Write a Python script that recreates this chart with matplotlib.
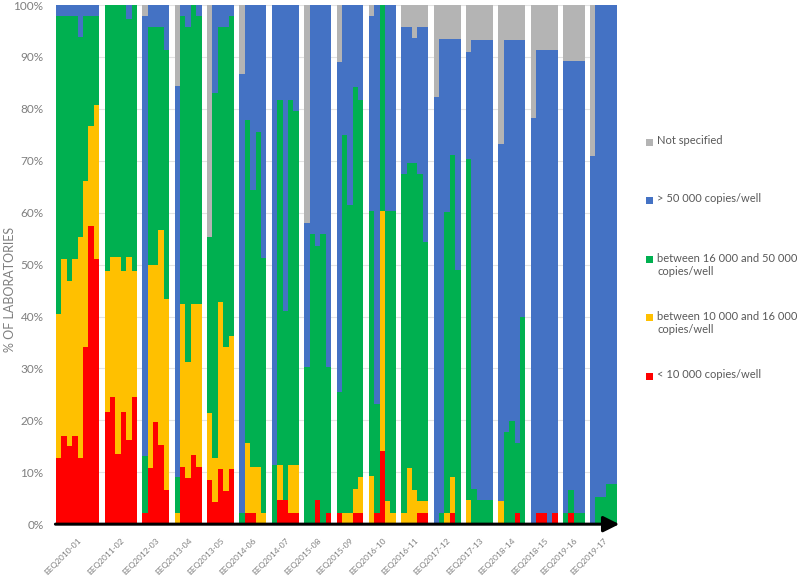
import matplotlib.pyplot as plt
import numpy as np
from matplotlib.patches import Rectangle

plt.rcParams['font.family'] = ['Lato', 'DejaVu Sans']

# one label per EEQ round
rounds = ['EEQ2010-01', 'EEQ2011-02', 'EEQ2012-03', 'EEQ2013-04', 'EEQ2013-05',
          'EEQ2014-06', 'EEQ2014-07', 'EEQ2015-08', 'EEQ2015-09', 'EEQ2016-10',
          'EEQ2016-11', 'EEQ2017-12', 'EEQ2017-13', 'EEQ2018-14', 'EEQ2018-15',
          'EEQ2019-16', 'EEQ2019-17']

# number of thin bars (samples) in each round
group_sizes = [8, 6, 5, 5, 5, 5, 5, 5, 5, 5, 5, 5, 5, 5, 5, 4, 5]

# % of laboratories per sample, one list per category
below_10k = [12.8, 17.0, 15.0, 17.0, 12.8, 34.1, 57.5, 51.1,
             21.7, 24.4, 13.6, 21.7, 16.2, 24.4,
             2.1, 10.9, 19.7, 15.3, 6.5,
             0, 11.1, 8.8, 13.3, 11.1,
             8.6, 4.3, 10.7, 6.4, 10.7,
             0, 2.1, 2.1, 0, 0,
             0, 4.6, 4.6, 2.1, 2.1,
             0, 0, 4.6, 0, 2.1,
             2.2, 0, 0, 2.2, 2.2,
             0, 2.1, 14.0, 0, 0,
             0, 0, 0, 2.1, 2.1,
             0, 0, 0, 2.2, 0,
             0, 0, 0, 0, 0,
             0, 0, 0, 2.1, 0,
             0, 2.1, 2.1, 0, 2.1,
             0, 2.1, 0, 0,
             0, 0, 0, 0, 0]

between_10k_16k = [27.7, 34.1, 31.9, 34.1, 42.5, 32.0, 19.2, 29.7,
                   27.0, 27.0, 37.8, 27.0, 35.2, 24.3,
                   0, 39.0, 30.2, 41.3, 36.9,
                   2.1, 31.3, 22.4, 29.1, 31.3,
                   12.8, 8.4, 32.0, 27.7, 25.5,
                   0, 13.5, 9.0, 11.1, 2.1,
                   0, 6.7, 0, 9.2, 9.2,
                   0, 0, 0, 0, 0,
                   0, 2.2, 2.2, 4.6, 6.9,
                   9.3, 0, 46.4, 4.5, 2.1,
                   2.1, 10.9, 6.6, 2.3, 2.3,
                   0, 0, 2.2, 6.8, 0,
                   4.6, 0, 0, 0, 0,
                   4.4, 0, 0, 0, 0,
                   0, 0, 0, 0, 0,
                   0, 0, 0, 0,
                   0, 0, 0, 0, 0]

between_16k_50k = [57.4, 46.8, 51.0, 46.8, 38.5, 31.8, 21.2, 17.1,
                   51.3, 48.6, 48.6, 51.3, 46.0, 51.3,
                   11.1, 45.9, 45.9, 39.2, 48.0,
                   6.9, 55.5, 64.5, 57.6, 55.5,
                   33.9, 70.4, 53.1, 61.7, 61.7,
                   2.1, 62.2, 53.3, 64.4, 49.1,
                   11.3, 70.5, 36.4, 70.5, 68.3,
                   30.3, 55.9, 48.9, 55.9, 28.2,
                   23.3, 72.8, 59.2, 77.4, 72.7,
                   51.0, 21.0, 39.6, 55.8, 58.2,
                   65.3, 58.7, 63.0, 63.0, 50.0,
                   0, 2.2, 57.9, 62.2, 49.0,
                   65.8, 6.8, 4.6, 4.6, 4.6,
                   0, 17.7, 19.9, 13.5, 40.0,
                   0, 0, 0, 0, 0,
                   2.1, 4.4, 2.1, 2.1,
                   0, 5.2, 5.2, 7.8, 7.8]

above_50k = [2.1, 2.1, 2.1, 2.1, 6.2, 2.1, 2.1, 2.1,
             0, 0, 0, 0, 2.6, 0,
             84.7, 4.2, 4.2, 4.2, 8.6,
             75.5, 2.1, 4.3, 0, 2.1,
             0, 16.9, 4.2, 4.2, 2.1,
             84.7, 22.2, 35.6, 24.5, 48.8,
             88.7, 18.2, 59.0, 18.2, 20.4,
             27.8, 44.1, 46.5, 44.1, 69.7,
             63.5, 25.0, 38.6, 15.8, 18.2,
             37.5, 76.9, 0, 39.7, 39.7,
             28.4, 26.2, 24.0, 28.4, 41.4,
             82.3, 91.3, 33.4, 22.3, 44.5,
             20.6, 86.4, 88.6, 88.6, 88.6,
             68.9, 75.6, 73.4, 77.7, 53.3,
             78.3, 89.2, 89.2, 91.3, 89.2,
             87.1, 82.7, 87.1, 87.1,
             71.0, 94.8, 94.8, 92.2, 92.2]

not_specified = [0, 0, 0, 0, 0, 0, 0, 0,
                 0, 0, 0, 0, 0, 0,
                 2.1, 0, 0, 0, 0,
                 15.5, 0, 0, 0, 0,
                 44.7, 0, 0, 0, 0,
                 13.2, 0, 0, 0, 0,
                 0, 0, 0, 0, 0,
                 41.9, 0, 0, 0, 0,
                 11.0, 0, 0, 0, 0,
                 2.2, 0, 0, 0, 0,
                 4.2, 4.2, 6.4, 4.2, 4.2,
                 17.7, 6.5, 6.5, 6.5, 6.5,
                 9.0, 6.8, 6.8, 6.8, 6.8,
                 26.7, 6.7, 6.7, 6.7, 6.7,
                 21.7, 8.7, 8.7, 8.7, 8.7,
                 10.8, 10.8, 10.8, 10.8,
                 29.0, 0, 0, 0, 0]

series = [
    (below_10k, '#FF0000', '< 10 000 copies/well'),
    (between_10k_16k, '#FFC000', 'between 10 000 and 16 000\ncopies/well'),
    (between_16k_50k, '#00B050', 'between 16 000 and 50 000\ncopies/well'),
    (above_50k, '#4472C4', '> 50 000 copies/well'),
    (not_specified, '#B4B4B4', 'Not specified'),
]

# bar positions: one empty slot between rounds, label at the middle of each round
x = []
centers = []
slot = 0
for n in group_sizes:
    x.extend(range(slot, slot + n))
    centers.append(slot + (n - 1) / 2)
    slot += n + 1
x = np.array(x)
n_slots = slot - 1

fig = plt.figure(figsize=(8, 5.76), dpi=100)
ax = fig.add_axes([0.07, 0.09, 0.70125, 0.90125])

bottom = np.zeros(len(x))
for vals, color, label in series:
    vals = np.array(vals)
    ax.bar(x, vals, width=1.0, bottom=bottom, color=color, linewidth=0,
           antialiased=False, zorder=2)
    bottom += vals

ax.set_xlim(-0.5, n_slots - 0.5)
ax.set_ylim(0, 100)
ax.set_yticks(np.arange(0, 101, 10))
ax.set_yticklabels([f'{v}%' for v in range(0, 101, 10)], color='#7F7F7F', fontsize=8.5)
ax.yaxis.grid(True, color='#E3E3E3', linewidth=0.8, zorder=0)
ax.tick_params(axis='y', length=0, pad=9)

ax.set_xticks(centers)
ax.set_xticklabels(rounds, rotation=45, ha='right', rotation_mode='anchor',
                   fontsize=6.0, color='#7F7F7F')
ax.tick_params(axis='x', length=0, pad=9)

for s in ax.spines.values():
    s.set_visible(False)

# x axis drawn as a black arrow
ax.annotate('', xy=(1.004, 0), xytext=(-0.001, 0), xycoords='axes fraction',
            arrowprops=dict(arrowstyle='-|>', lw=2.2, color='black',
                            mutation_scale=24, shrinkA=0, shrinkB=0),
            annotation_clip=False, zorder=5)

fig.text(0.012, 0.497, '% OF LABORATORIES', rotation=90, va='center', ha='center',
         color='#7F7F7F', fontsize=9)

# legend on the right, top entry first (first-line centres, px from top)
legend_px = [142, 200, 259, 317, 376]
W, H = 800, 576
for (vals, color, label), yc in zip(series[::-1], legend_px):
    fig.patches.append(Rectangle(((649.5 - 3.5) / W, 1 - (yc + 3.5) / H), 7 / W, 7 / H,
                                 transform=fig.transFigure, color=color, lw=0))
    fig.text(657 / W, 1 - (yc - 6.5) / H, label, color='#595959', fontsize=8,
             va='top', ha='left', linespacing=1.25)

fig.savefig('out.png', dpi=100)
